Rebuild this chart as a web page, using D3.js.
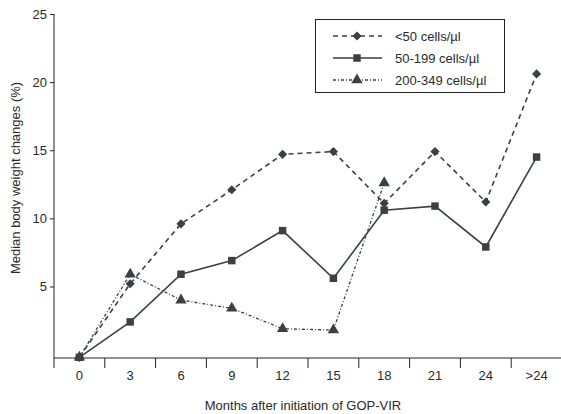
<!DOCTYPE html>
<html lang="en">
<head>
<meta charset="utf-8">
<style type="text/css">
    body { margin: 0; background: #fff; }
    .tick_text { font-family: "Liberation Sans", Arial, sans-serif; font-size: 13px; fill: #2a2a2a; }
    .title_text { font-family: "Liberation Sans", Arial, sans-serif; font-size: 13px; fill: #2a2a2a; }
    .legend_text { font-family: "Liberation Sans", Arial, sans-serif; font-size: 13px; fill: #2a2a2a; }
</style>
</head>
<body>
<div id="graph"></div>
<script src="https://cdn.jsdelivr.net/npm/d3@7"></script>
<script type="text/javascript">
    var months = ["0", "3", "6", "9", "12", "15", "18", "21", "24", ">24"];
    var yTicks = [5, 10, 15, 20, 25];
    var below50 = [-0.2, 5.2, 9.6, 12.1, 14.7, 14.9, 11.1, 14.9, 11.2, 20.6];
    var mid50to199 = [-0.2, 2.4, 5.9, 6.9, 9.1, 5.6, 10.6, 10.9, 7.9, 14.5];
    var high200to349 = [-0.2, 5.9, 4.0, 3.4, 1.9, 1.8, 12.6];
    var seriesNames = ["<50 cells/\u00b5l", "50-199 cells/\u00b5l", "200-349 cells/\u00b5l"];

    var ink = "#3b4045";
    var W = 561, H = 414;
    var plotLeft = 54, plotRight = 562, plotTop = 14, plotBottom = 358;

    var svg = d3.select("#graph").append("svg")
        .attr("width", W)
        .attr("height", H);

    var x = d3.scaleBand()
        .domain(months)
        .range([plotLeft, plotRight]);
    var y = d3.scaleLinear()
        .domain([-0.25, 25])
        .range([plotBottom, plotTop]);

    // y axis
    var yAxis = svg.append("g")
        .attr("transform", "translate(" + plotLeft + ",0)")
        .call(d3.axisLeft(y).tickValues(yTicks).tickSize(4).tickPadding(3));
    yAxis.select(".domain").attr("d", "M0," + plotTop + "V" + plotBottom).attr("stroke", "#222");
    yAxis.selectAll(".tick line").attr("stroke", "#222");
    yAxis.selectAll("text").attr("class", "tick_text");
    yAxis.attr("font-family", null).attr("font-size", null);

    // x axis: ticks sit on the band edges
    var xAxis = svg.append("g")
        .attr("transform", "translate(0," + plotBottom + ")");
    xAxis.append("line")
        .attr("x1", plotLeft).attr("x2", W)
        .attr("y1", 0).attr("y2", 0)
        .attr("stroke", "#222");
    xAxis.selectAll(".xtick")
        .data(months)
        .enter()
        .append("line")
        .attr("x1", function(d) { return x(d); })
        .attr("x2", function(d) { return x(d); })
        .attr("y1", 0).attr("y2", 10)
        .attr("stroke", "#222");
    xAxis.selectAll(".xlab")
        .data(months)
        .enter()
        .append("text")
        .attr("class", "tick_text")
        .attr("x", function(d) { return x(d) + x.bandwidth() / 2; })
        .attr("y", 22)
        .attr("text-anchor", "middle")
        .text(function(d) { return d; });

    svg.append("text")
        .attr("class", "title_text")
        .attr("x", 303)
        .attr("y", 410)
        .attr("text-anchor", "middle")
        .text("Months after initiation of GOP-VIR");

    svg.append("text")
        .attr("class", "title_text")
        .attr("transform", "translate(20,178) rotate(-90)")
        .attr("text-anchor", "middle")
        .text("Median body weight changes (%)");

    var series = [
        {name: seriesNames[0], values: below50, dash: "5,4", width: 1.6, marker: d3.symbolSquare, size: 42, rot: 45},
        {name: seriesNames[1], values: mid50to199, dash: null, width: 1.6, marker: d3.symbolSquare, size: 56, rot: 0},
        {name: seriesNames[2], values: high200to349, dash: "3,2,1,2", width: 1.3, marker: d3.symbolTriangle, size: 56, rot: 0}
    ];

    var line = d3.line()
        .x(function(d, i) { return x(months[i]) + x.bandwidth() / 2; })
        .y(function(d) { return y(d); });

    series.forEach(function(s) {
        svg.append("path")
            .datum(s.values)
            .attr("d", line)
            .attr("fill", "none")
            .attr("stroke", ink)
            .attr("stroke-width", s.width)
            .attr("stroke-dasharray", s.dash);
        svg.selectAll(null)
            .data(s.values)
            .enter()
            .append("path")
            .attr("d", d3.symbol().type(s.marker).size(s.size))
            .attr("transform", function(d, i) {
                return "translate(" + (x(months[i]) + x.bandwidth() / 2) + "," + y(d) + ") rotate(" + s.rot + ")";
            })
            .attr("fill", ink);
    });

    // legend
    var legend = svg.append("g");
    legend.append("rect")
        .attr("x", 315.5).attr("y", 19.5)
        .attr("width", 189).attr("height", 73)
        .attr("fill", "#fff")
        .attr("stroke", "#222");
    series.forEach(function(s, i) {
        var ly = 36 + i * 22;
        legend.append("line")
            .attr("x1", 333).attr("x2", 382)
            .attr("y1", ly).attr("y2", ly)
            .attr("stroke", ink)
            .attr("stroke-width", s.width)
            .attr("stroke-dasharray", s.dash);
        legend.append("path")
            .attr("d", d3.symbol().type(s.marker).size(s.size))
            .attr("transform", "translate(357," + ly + ") rotate(" + s.rot + ")")
            .attr("fill", ink);
        legend.append("text")
            .attr("class", "legend_text")
            .attr("x", 395)
            .attr("y", ly + 4.5)
            .text(s.name);
    });
</script>
</body>
</html>
